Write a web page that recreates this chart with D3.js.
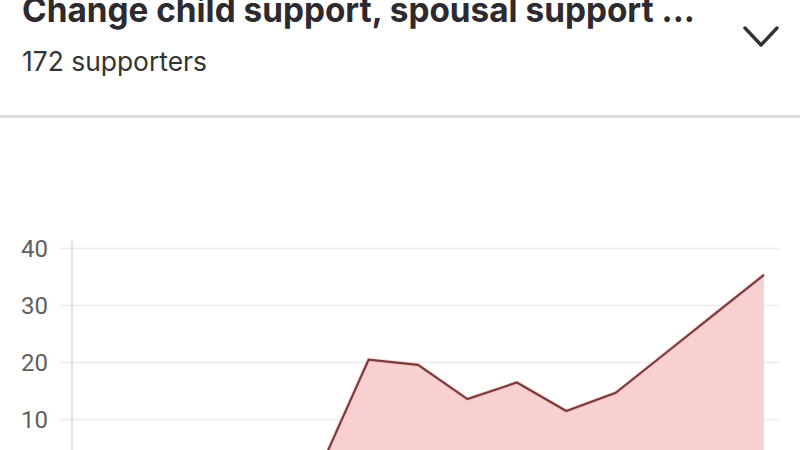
<!DOCTYPE html>
<html>
<head>
<meta charset="utf-8">
<script src="https://cdn.jsdelivr.net/npm/d3@7"></script>
<style>
  body { margin: 0; background: #fff; }
  svg { display: block; }
</style>
</head>
<body>
<svg id="chart" width="800" height="450"></svg>
<script>
// petition signatures per period
var periods = d3.range(15);
var signatures = [0, 0, 0, 0, 0, 1, 20.4, 19.5, 13.5, 16.4, 11.4, 14.6, 21.5, 28.4, 35.3];
var yTicks = [0, 10, 20, 30, 40];
var title = 'Change child support, spousal support ...';
var subtitle = '172 supporters';

var svg = d3.select('#chart');

// header
function fitText(sel, width) {
    var w = sel.node().getComputedTextLength();
    var fs = parseFloat(sel.attr('font-size'));
    sel.attr('font-size', fs * width / w);
}

svg.append('text')
    .attr('x', 22).attr('y', 22)
    .attr('font-family', 'Inter, "Noto Sans", sans-serif')
    .attr('font-weight', 700)
    .attr('font-size', 34)
    .attr('textLength', 673)
    .attr('lengthAdjust', 'spacingAndGlyphs')
    .attr('fill', '#2d2a30')
    .text(title);

var s = svg.append('text')
    .attr('x', 22).attr('y', 71)
    .attr('font-family', 'Inter, "Noto Sans", sans-serif')
    .attr('font-size', 25)
    .attr('fill', '#333')
    .text(subtitle);
fitText(s, 185);

// chevron
svg.append('path')
    .attr('d', 'M745,28 L761,45 L777,28')
    .attr('fill', 'none')
    .attr('stroke', '#333')
    .attr('stroke-width', 3.4)
    .attr('stroke-linecap', 'round')
    .attr('stroke-linejoin', 'round');

// divider
svg.append('rect')
    .attr('x', 0).attr('y', 115).attr('width', 800).attr('height', 3)
    .attr('fill', '#dcdcdc');

// chart
var x = d3.scaleLinear().domain([0, 14]).range([72, 764]);
var y = d3.scaleLinear().domain([0, 40]).range([476, 248]);

var gAxis = svg.append('g')
    .attr('transform', 'translate(72,0)')
    .call(d3.axisLeft(y).tickValues(yTicks).tickSize(0).tickPadding(24));
gAxis.select('.domain').remove();
gAxis.selectAll('.tick line')
    .attr('x1', -12).attr('x2', 707)
    .attr('stroke', '#ececec')
    .attr('stroke-width', 1.6);
gAxis.selectAll('.tick text')
    .attr('font-family', 'Roboto, sans-serif')
    .attr('font-size', 24)
    .attr('fill', '#5f5f5f')
    .attr('dy', '0.35em');

svg.append('line')
    .attr('x1', 72).attr('x2', 72)
    .attr('y1', 241).attr('y2', 476)
    .attr('stroke', '#dedede')
    .attr('stroke-width', 1.6);

var area = d3.area()
    .x(function(d, i) { return x(periods[i]); })
    .y0(y(0))
    .y1(function(d) { return y(d); });

var line = d3.line()
    .x(function(d, i) { return x(periods[i]); })
    .y(function(d) { return y(d); });

svg.append('path')
    .datum(signatures)
    .attr('d', area)
    .attr('fill', '#f8d0d1');

svg.append('path')
    .datum(signatures)
    .attr('d', line)
    .attr('fill', 'none')
    .attr('stroke', '#f4b8b8')
    .attr('stroke-width', 4)
    .attr('stroke-opacity', 0.5);

svg.append('path')
    .datum(signatures)
    .attr('d', line)
    .attr('fill', 'none')
    .attr('stroke', '#7a3a3a')
    .attr('stroke-width', 2.1);
</script>
</body>
</html>
